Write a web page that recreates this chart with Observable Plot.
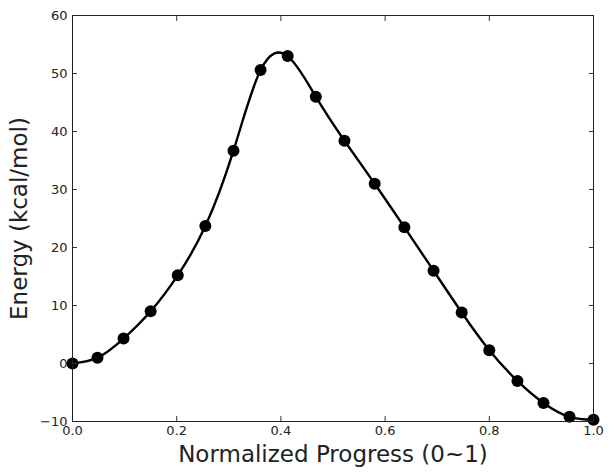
<!DOCTYPE html>
<html>
<head>
<meta charset="utf-8">
<script src="https://cdn.jsdelivr.net/npm/d3@7"></script>
<script src="https://cdn.jsdelivr.net/npm/@observablehq/plot@0.6"></script>
<style>
  html, body { margin: 0; padding: 0; background: #fff; }
  #chart svg { display: block; font-family: "DejaVu Sans", sans-serif; }
</style>
</head>
<body>
<div id="chart"></div>
<script>
const progress = [0.0, 0.048, 0.098, 0.150, 0.202, 0.255, 0.309, 0.361, 0.413, 0.467,
                  0.522, 0.580, 0.637, 0.693, 0.747, 0.800, 0.854, 0.904, 0.954, 1.0];
const energy = [0.0, 1.0, 4.3, 9.0, 15.2, 23.7, 36.7, 50.6, 53.0, 46.0,
                38.4, 31.0, 23.5, 16.0, 8.8, 2.3, -3.0, -6.8, -9.2, -9.7];
const xTicks = [0, 0.2, 0.4, 0.6, 0.8, 1.0];
const yTicks = [-10, 0, 10, 20, 30, 40, 50, 60];
const xLabel = "Normalized Progress (0~1)";
const yLabel = "Energy (kcal/mol)";

const data = progress.map((p, i) => ({p, e: energy[i]}));

const chart = Plot.plot({
  width: 614,
  height: 475,
  marginLeft: 72,
  marginRight: 21,
  marginTop: 15,
  marginBottom: 54,
  style: {fontFamily: "DejaVu Sans, sans-serif", color: "#222", background: "#fff"},
  x: {domain: [0, 1]},
  y: {domain: [-10, 60]},
  marks: [
    Plot.line(data, {x: "p", y: "e", curve: "natural", stroke: "black", strokeWidth: 2.4}),
    Plot.dot(data, {x: "p", y: "e", r: 6, fill: "black", stroke: "none"}),
    // tick labels
    Plot.axisX({anchor: "bottom", ticks: xTicks, tickSize: 0, tickPadding: 4, tickFormat: d3.format(".1f"), fontSize: 13, label: null}),
    Plot.axisY({anchor: "left", ticks: yTicks, tickSize: 0, tickPadding: 5, tickFormat: d => d < 0 ? "\u2212" + Math.abs(d) : String(d), fontSize: 13, label: null}),
    // inward tick marks on all four sides
    Plot.axisX({anchor: "bottom", ticks: xTicks, tickSize: -5, tickFormat: () => "", label: null, stroke: "#333"}),
    Plot.axisX({anchor: "top", ticks: xTicks, tickSize: -5, tickFormat: () => "", label: null, stroke: "#333"}),
    Plot.axisY({anchor: "left", ticks: yTicks, tickSize: -5, tickFormat: () => "", label: null, stroke: "#333"}),
    Plot.axisY({anchor: "right", ticks: yTicks, tickSize: -5, tickFormat: () => "", label: null, stroke: "#333"}),
    // axis titles
    Plot.axisX({anchor: "bottom", ticks: [], tickSize: 0, label: xLabel, labelAnchor: "center", labelArrow: "none", labelOffset: 40, fontSize: 23}),
    Plot.axisY({anchor: "left", ticks: [], tickSize: 0, label: yLabel, labelAnchor: "center", labelArrow: "none", labelOffset: 62, fontSize: 23}),
    Plot.frame({stroke: "#222", strokeWidth: 1})
  ]
});
document.getElementById("chart").appendChild(chart);
</script>
</body>
</html>
